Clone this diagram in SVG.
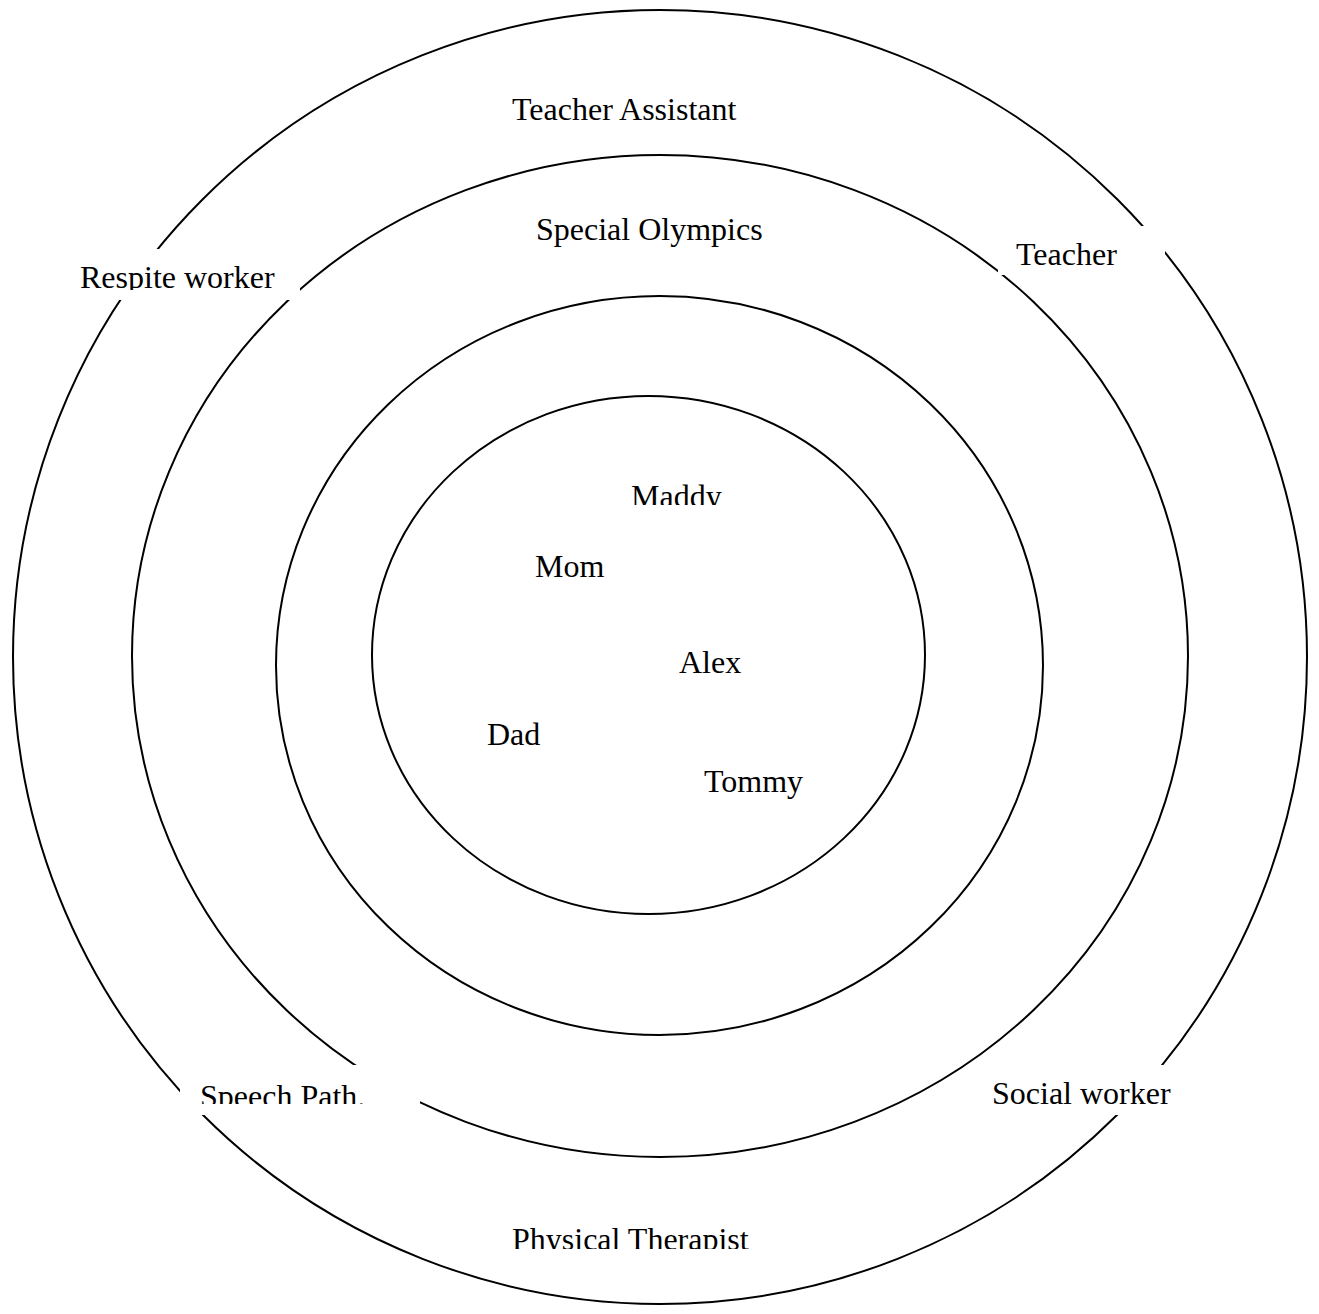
<svg xmlns="http://www.w3.org/2000/svg" width="1319" height="1314" viewBox="0 0 1319 1314">
<style>
.ring{fill:none;stroke:#000;stroke-width:2}
.box{fill:#fff;stroke:none}
text{font-family:"Liberation Serif","Times New Roman",serif;font-size:32px;fill:#000}
</style>
<defs>
<clipPath id="cRespite"><rect x="60" y="240" width="240" height="50"/></clipPath>
<clipPath id="cSpeech"><rect x="180" y="1065" width="240" height="39"/></clipPath>
<clipPath id="cPhys"><rect x="480" y="1200" width="300" height="49"/></clipPath>
<clipPath id="cMaddy"><rect x="600" y="460" width="150" height="45"/></clipPath>
</defs>
<rect width="1319" height="1314" fill="#fff"/>
<g id="rings">
<ellipse id="ring-outer" class="ring" cx="660" cy="657" rx="647" ry="647"/>
<ellipse id="ring-2" class="ring" cx="660" cy="656" rx="528" ry="501"/>
<ellipse id="ring-3" class="ring" cx="659.5" cy="665.5" rx="383.5" ry="369.5"/>
<ellipse id="ring-inner" class="ring" cx="648.5" cy="655" rx="276.5" ry="259"/>
</g>
<g id="connectors"></g>
<g id="teacher-assistant"><rect class="box" x="490" y="85" width="270" height="50"/><text x="512" y="120">Teacher Assistant</text></g>
<g id="special-olympics"><rect class="box" x="515" y="205" width="270" height="50"/><text x="536" y="240">Special Olympics</text></g>
<g id="teacher"><rect class="box" x="998" y="226" width="167" height="49"/><text x="1016" y="265">Teacher</text></g>
<g id="respite-worker"><rect class="box" x="65" y="249" width="235" height="51"/><text x="80" y="288" clip-path="url(#cRespite)">Respite worker</text></g>
<g id="speech-path"><rect class="box" x="180" y="1065" width="240" height="50"/><text x="200" y="1107" clip-path="url(#cSpeech)">Speech Path.</text></g>
<g id="social-worker"><rect class="box" x="985" y="1065" width="190" height="50"/><text x="992" y="1104">Social worker</text></g>
<g id="physical-therapist"><rect class="box" x="495" y="1215" width="270" height="45"/><text x="512" y="1250" clip-path="url(#cPhys)">Physical Therapist</text></g>
<g id="maddy"><text x="631" y="507" clip-path="url(#cMaddy)">Maddy</text></g>
<g id="mom"><text x="535" y="577">Mom</text></g>
<g id="alex"><text x="679" y="673">Alex</text></g>
<g id="dad"><text x="487" y="745">Dad</text></g>
<g id="tommy"><text x="704" y="792">Tommy</text></g>
</svg>
